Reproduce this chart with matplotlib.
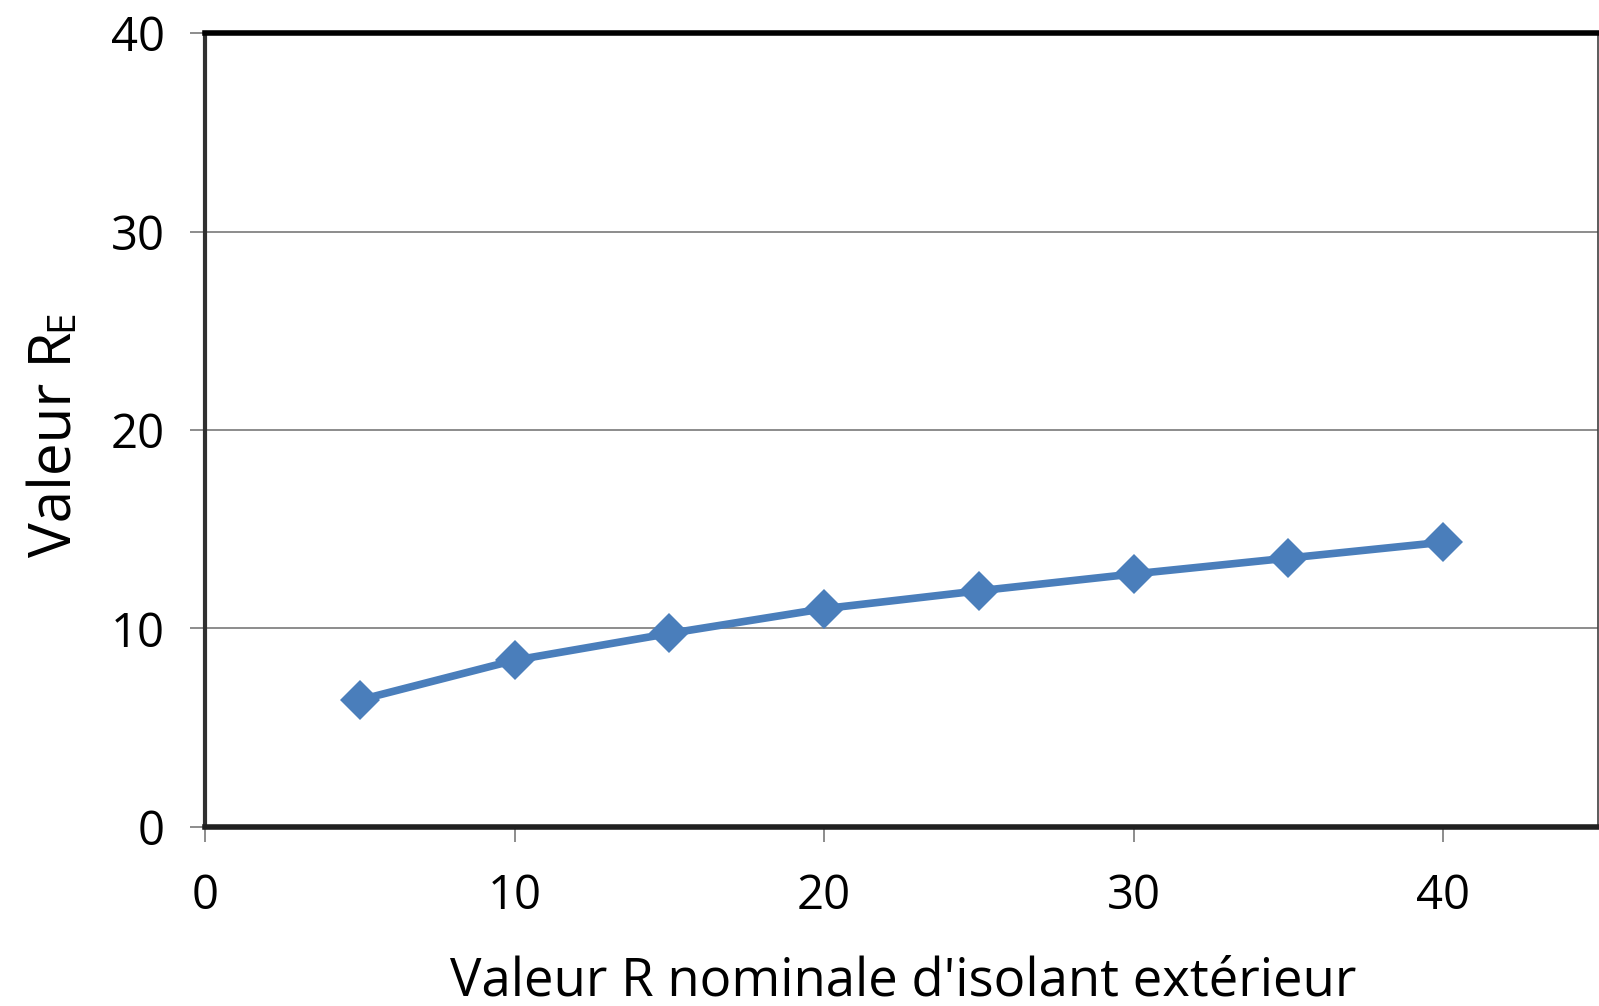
import matplotlib
matplotlib.use("Agg")
import matplotlib.pyplot as plt

# nominal exterior insulation R-value vs effective R-value
r_nominal = [5, 10, 15, 20, 25, 30, 35, 40]
r_effective = [6.4, 8.4, 9.75, 11.0, 11.9, 12.75, 13.55, 14.35]

x_ticks = [0, 10, 20, 30, 40]
y_ticks = [0, 10, 20, 30, 40]

plt.rcParams['font.family'] = ['Open Sans', 'DejaVu Sans']

W, H = 15.99, 10.06
fig = plt.figure(figsize=(W, H), dpi=100)
ax = fig.add_axes([0.1282, 0.178, 0.8712, 0.789])

ax.plot(r_nominal, r_effective, color='#4A7EBB', linewidth=5.5,
        marker='D', markersize=20, markeredgewidth=0, zorder=3)

ax.set_xlim(0, 45)
ax.set_ylim(0, 40)
ax.set_xticks(x_ticks)
ax.set_yticks(y_ticks)
ax.grid(axis='y', color='#8c8c8c', linewidth=1.4)
ax.set_axisbelow(True)

ax.tick_params(axis='both', which='major', labelsize=34, length=11,
               width=1.4, color='#8c8c8c', pad=18)
ax.tick_params(axis='x', pad=22)

for side, lw, col in [('top', 4, 'black'), ('bottom', 4, '#202020'),
                      ('left', 3, '#303030'), ('right', 1.2, '#404040')]:
    ax.spines[side].set_linewidth(lw)
    ax.spines[side].set_color(col)

fig.text(903 / 1599, 1 - 995 / 1006, "Valeur R nominale d'isolant extérieur",
         fontsize=38, ha='center', va='baseline')

# y label: "Valeur R" followed by a smaller E on the same baseline
base_x = 72 / 1599
base_y = 1 - 557 / 1006
ylab = fig.text(base_x, base_y, 'Valeur R', rotation=90, fontsize=42,
                rotation_mode='anchor', ha='left', va='baseline')
fig.canvas.draw()
bb = ylab.get_window_extent(fig.canvas.get_renderer())
fig.text(base_x, base_y + bb.height / (fig.dpi * H) + 0.001, 'E',
         rotation=90, fontsize=28, rotation_mode='anchor',
         ha='left', va='baseline')

fig.savefig('out.png', dpi=100)
